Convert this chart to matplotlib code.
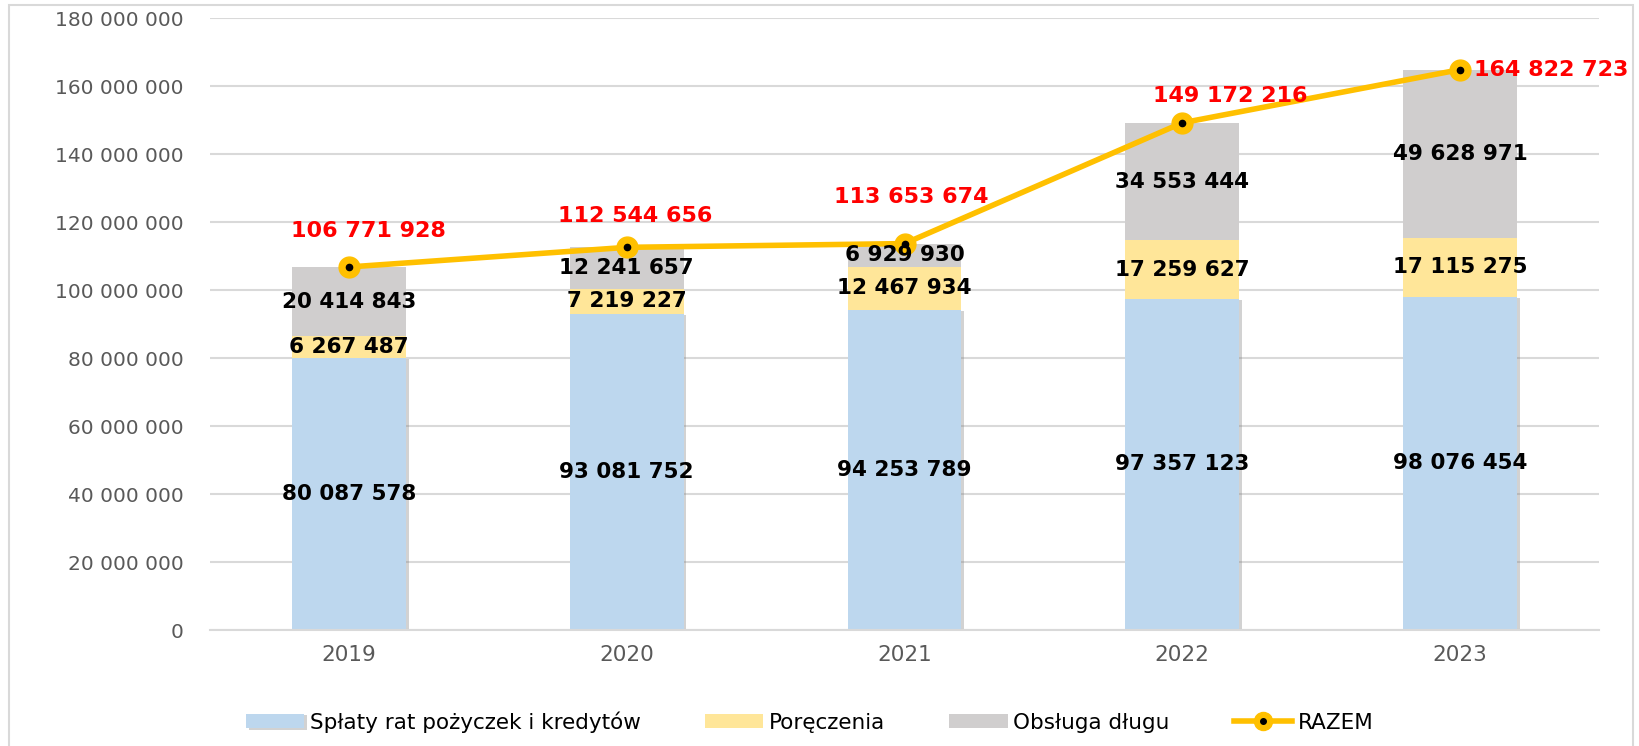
import matplotlib.pyplot as plt
import matplotlib.patheffects as pe
from matplotlib.patches import Rectangle
from matplotlib.lines import Line2D
from matplotlib.ticker import FuncFormatter
import numpy as np

years = ["2019", "2020", "2021", "2022", "2023"]
splaty = [80087578, 93081752, 94253789, 97357123, 98076454]
poreczenia = [6267487, 7219227, 12467934, 17259627, 17115275]
obsluga = [20414843, 12241657, 6929930, 34553444, 49628971]
razem = [106771928, 112544656, 113653674, 149172216, 164822723]

# label offsets for the RAZEM values (pixels)
razem_off = [(20, 36), (8, 31), (7, 47), (48, 27), (14, 0)]

C_BLUE = "#BDD7EE"
C_YEL = "#FFE699"
C_GRAY = "#D0CECE"
C_LINE = "#FFC000"
C_GRID = "#D9D9D9"


def fmt(v):
    return f"{v:,.0f}".replace(",", " ")


fig = plt.figure(figsize=(16.39, 7.46), dpi=100)
ax = fig.add_axes([210 / 1639, 1 - 630 / 746, (1599 - 210) / 1639, (630 - 18) / 746])

# outer chart frame
fig.patches.append(Rectangle((9 / 1639, -0.05), (1633 - 9) / 1639, 1.05 - 5 / 746,
                             transform=fig.transFigure, fill=False,
                             edgecolor=C_GRID, linewidth=1.5))

x = np.arange(len(years))
w = 0.41
shadow = [pe.withSimplePatchShadow(offset=(2, -1), shadow_rgbFace="#808080", alpha=0.35)]

b1 = ax.bar(x, splaty, w, color=C_BLUE, label="Spłaty rat pożyczek i kredytów",
            zorder=2, path_effects=shadow)
bot2 = np.array(splaty)
b2 = ax.bar(x, poreczenia, w, bottom=bot2, color=C_YEL, label="Poręczenia", zorder=2)
bot3 = bot2 + np.array(poreczenia)
b3 = ax.bar(x, obsluga, w, bottom=bot3, color=C_GRAY, label="Obsługa długu", zorder=2)

for bars, vals, bots in [(b1, splaty, np.zeros(5)), (b2, poreczenia, bot2), (b3, obsluga, bot3)]:
    for xi, v, b in zip(x, vals, bots):
        ax.text(xi, b + v / 2, fmt(v), ha="center", va="center", fontsize=15.5,
                fontweight="bold", color="black", zorder=5)

ax.plot(x, razem, color=C_LINE, lw=4, marker="o", ms=15, mfc=C_LINE, mec=C_LINE,
        zorder=4, solid_capstyle="round")
ax.plot(x, razem, ls="none", marker="o", ms=4.5, color="black", zorder=6)

for i, (xi, v) in enumerate(zip(x, razem)):
    dx, dy = razem_off[i]
    ha = "left" if i == len(x) - 1 else "center"
    ax.annotate(fmt(v), (xi, v), xytext=(dx, dy), textcoords="offset pixels",
                ha=ha, va="center", fontsize=16, fontweight="bold", color="red", zorder=7)

ax.set_xlim(-0.5, len(years) - 0.5)
ax.set_ylim(0, 180000000)
ax.set_yticks(np.arange(0, 180000001, 20000000))
ax.yaxis.set_major_formatter(FuncFormatter(lambda v, p: fmt(v)))
ax.set_xticks(x)
ax.set_xticklabels(years)
ax.tick_params(axis="both", length=0, labelsize=14.5, labelcolor="#595959")
ax.tick_params(axis="y", pad=19)
ax.tick_params(axis="x", pad=11, labelsize=15.5)
ax.grid(axis="y", color=C_GRID, lw=1.5, zorder=0)
ax.set_axisbelow(True)
for s in ["top", "right", "left"]:
    ax.spines[s].set_visible(False)
ax.spines["bottom"].set_color(C_GRID)
ax.spines["bottom"].set_linewidth(1.5)

line_h = (Line2D([], [], color=C_LINE, lw=4, marker="o", ms=13, mfc=C_LINE, mec=C_LINE),
          Line2D([], [], ls="none", marker="o", ms=4, color="black"))
handles = [b1, b2, b3, line_h]
labels = ["Spłaty rat pożyczek i kredytów", "Poręczenia", "Obsługa długu", "RAZEM"]
fig.legend(handles, labels, loc="center", bbox_to_anchor=(0.494, 1 - 722 / 746), ncol=4,
           frameon=False, fontsize=15.5, handlelength=2.7, handleheight=0.65,
           columnspacing=3.0, handletextpad=0.25)

fig.savefig("out.png", dpi=100)
